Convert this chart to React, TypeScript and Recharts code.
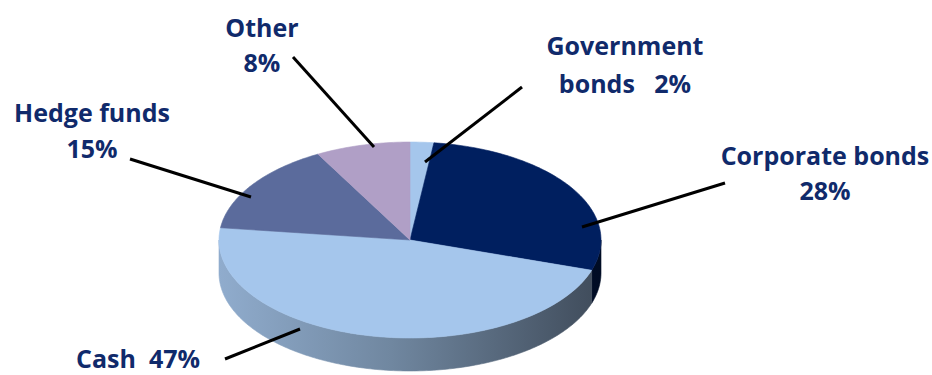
import React from 'react';
import { PieChart, Pie, Cell } from 'recharts';

const categories = ['Government bonds', 'Corporate bonds', 'Cash', 'Hedge funds', 'Other'];
const shares = [2, 28, 47, 15, 8];
const topColors = ['#A5C6EC', '#001F5F', '#A5C6EC', '#5B6B9C', '#B09FC6'];
// label text lines for each slice
const labelFirstLines = ['Government', 'Corporate bonds', 'Cash  47%', 'Hedge funds', 'Other'];
const labelSecondLines = ['bonds   2%', '28%', '', '15%', '8%'];

const data = categories.map((name, i) => ({ name, value: shares[i] }));

const W = 932;
const H = 375;
const CX = 410;
const CY = 240;
const RX = 191;
const RATIO = 0.513;
const DEPTH = 33;
const TEXT = '#102A6B';
const FONT = '"Open Sans", "Noto Sans", sans-serif';

// layout of labels relative to the pie centre (inner end, outer end, text x, baselines)
const labelLayout = [
  { inner: [15, -78], outer: [112, -153], tx: 215, ty: [-185, -147] },
  { inner: [172, -13], outer: [315, -57], tx: 415, ty: [-75, -40] },
  { inner: [-110, 89], outer: [-185, 119], tx: -272, ty: [128] },
  { inner: [-159, -43], outer: [-280, -81], tx: -318, ty: [-118, -82] },
  { inner: [-36, -93], outer: [-117, -183], tx: -148, ty: [-203, -168] },
];

const RAD = Math.PI / 180;

function pt(cx: number, cy: number, rx: number, ry: number, a: number, dy = 0) {
  return [cx + rx * Math.cos(a * RAD), cy - ry * Math.sin(a * RAD) + dy];
}

function arcPoints(cx: number, cy: number, rx: number, ry: number, a1: number, a2: number, dy = 0) {
  const pts: number[][] = [];
  const n = Math.max(2, Math.ceil(Math.abs(a2 - a1) / 1));
  for (let i = 0; i <= n; i++) {
    const a = a1 + ((a2 - a1) * i) / n;
    pts.push(pt(cx, cy, rx, ry, a, dy));
  }
  return pts;
}

function shade(hex: string, f: number) {
  const n = parseInt(hex.slice(1), 16);
  const r = Math.round(((n >> 16) & 255) * f);
  const g = Math.round(((n >> 8) & 255) * f);
  const b = Math.round((n & 255) * f);
  return `rgb(${r},${g},${b})`;
}

const Slice3D = (props: any) => {
  const { cx, cy, outerRadius, startAngle, endAngle, index } = props;
  const fill = topColors[index];
  const rx = outerRadius;
  const ry = outerRadius * RATIO;
  const lo = Math.min(startAngle, endAngle);
  const hi = Math.max(startAngle, endAngle);
  // front half is between -180 and 0 degrees
  const s1 = Math.max(lo, -180);
  const s2 = Math.min(hi, 0);
  let side: React.ReactNode = null;
  const gid = `sideGrad${index}`;
  if (s2 > s1) {
    const top = arcPoints(cx, cy, rx, ry, s1, s2);
    const bottom = arcPoints(cx, cy, rx, ry, s2, s1, DEPTH);
    const d =
      'M' + top.map((p) => `${p[0].toFixed(2)},${p[1].toFixed(2)}`).join(' L') +
      ' L' + bottom.map((p) => `${p[0].toFixed(2)},${p[1].toFixed(2)}`).join(' L') + ' Z';
    side = (
      <g>
        <defs>
          <linearGradient id={gid} gradientUnits="userSpaceOnUse" x1={cx - rx} y1={0} x2={cx + rx} y2={0}>
            <stop offset="0%" stopColor={shade(fill, 0.87)} />
            <stop offset="45%" stopColor={shade(fill, 0.68)} />
            <stop offset="100%" stopColor={shade(fill, 0.38)} />
          </linearGradient>
        </defs>
        <path d={d} fill={`url(#${gid})`} stroke={`url(#${gid})`} strokeWidth={0.6} />
      </g>
    );
  }
  const arc = arcPoints(cx, cy, rx, ry, startAngle, endAngle);
  const topD =
    `M${cx},${cy} L` + arc.map((p) => `${p[0].toFixed(2)},${p[1].toFixed(2)}`).join(' L') + ' Z';
  return (
    <g>
      {side}
      <path d={topD} fill={fill} stroke={fill} strokeWidth={0.6} strokeLinejoin="round" />
    </g>
  );
};

const renderLabel = (props: any) => {
  const { index } = props;
  const L = labelLayout[index];
  const lines = [labelFirstLines[index], labelSecondLines[index]].filter((s) => s !== '');
  return (
    <g key={`lbl${index}`}>
      <line
        x1={CX + L.inner[0]}
        y1={CY + L.inner[1]}
        x2={CX + L.outer[0]}
        y2={CY + L.outer[1]}
        stroke="#000"
        strokeWidth={3}
      />
      {lines.map((t, k) => (
        <text
          key={k}
          x={CX + L.tx}
          y={CY + L.ty[k]}
          textAnchor="middle"
          fill={TEXT}
          fontFamily={FONT}
          fontWeight={700}
          fontSize={25}
          style={{ whiteSpace: 'pre' }}
        >
          {t}
        </text>
      ))}
    </g>
  );
};

export default function App() {
  return (
    <div style={{ position: 'absolute', left: 0, top: 0, width: W, height: H, background: '#fff' }}>
      <PieChart width={W} height={H} margin={{ top: 0, right: 0, bottom: 0, left: 0 }}>
        <Pie
          data={data}
          dataKey="value"
          nameKey="name"
          cx={CX}
          cy={CY}
          innerRadius={0}
          outerRadius={RX}
          startAngle={90}
          endAngle={-270}
          paddingAngle={0}
          stroke="none"
          shape={Slice3D}
          label={renderLabel}
          labelLine={false}
          isAnimationActive={false}
        >
          {data.map((d, i) => (
            <Cell key={d.name} fill={topColors[i]} />
          ))}
        </Pie>
      </PieChart>
    </div>
  );
}
